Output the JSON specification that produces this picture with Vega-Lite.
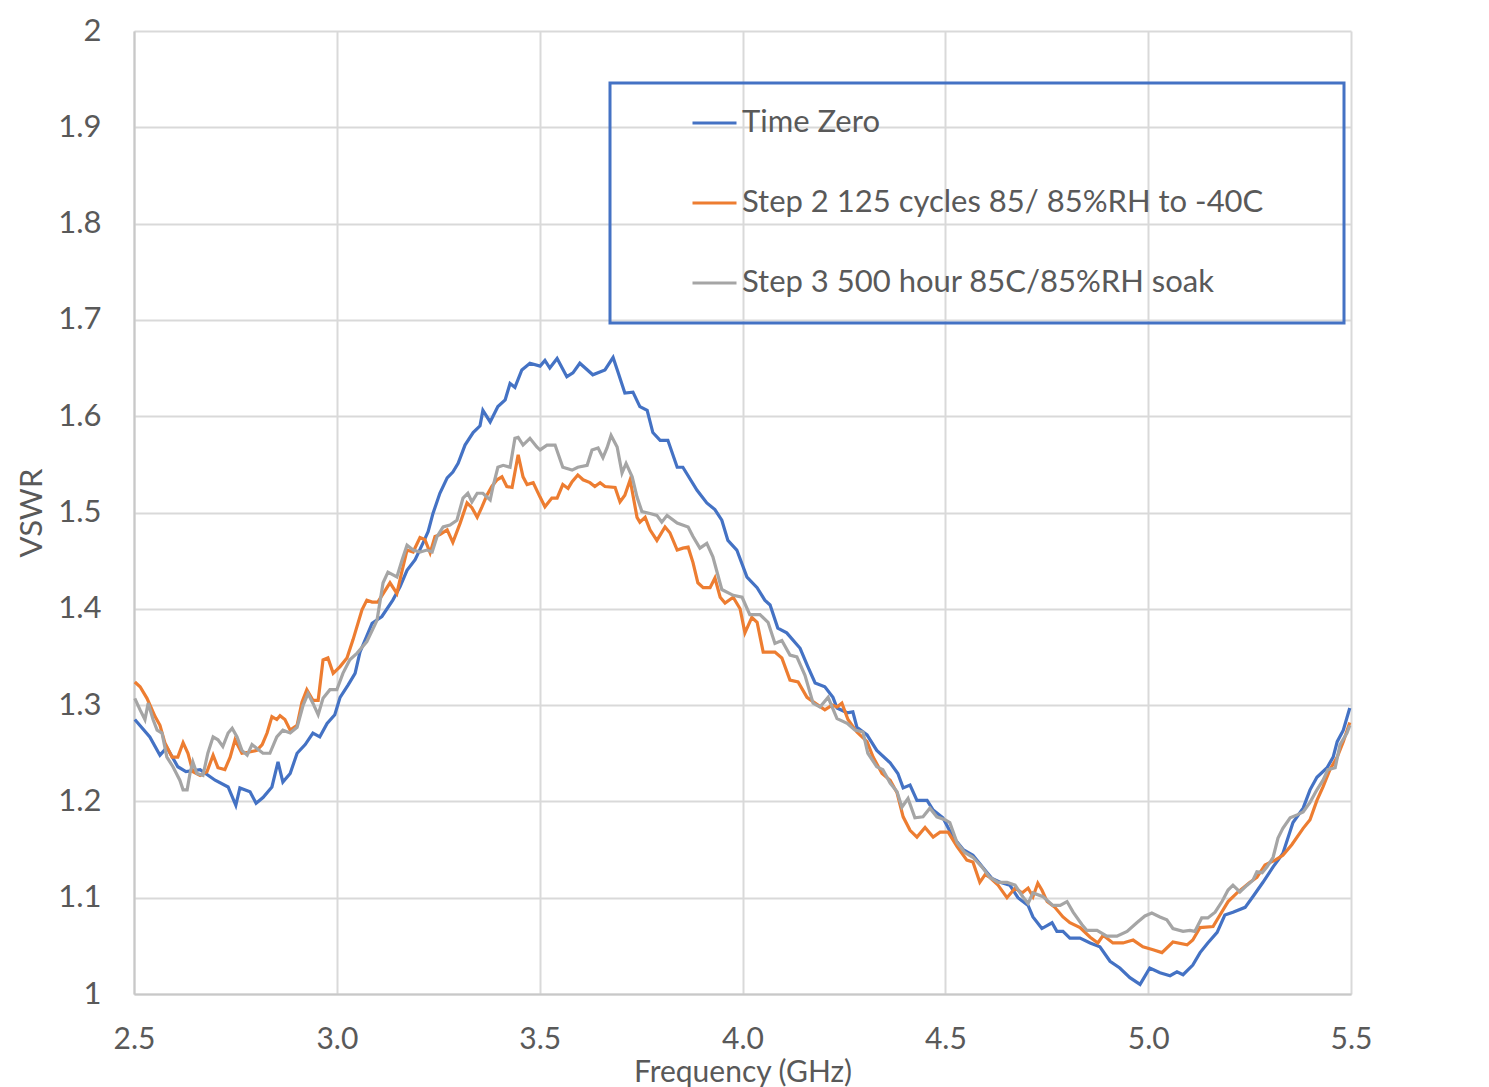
{
"$schema": "https://vega.github.io/schema/vega-lite/v6.json",
"autosize": {"type": "none"},
"width": 1217, "height": 963,
"padding": {"left": 134, "top": 31, "right": 138, "bottom": 93},
"background": "white",
"config": {"view": {"stroke": null}, "font": "Lato"},
"datasets": {
"t0": [
{"f":2.502,"v":1.285},{"f":2.539,"v":1.267},{"f":2.564,"v":1.248},{"f":2.581,"v":1.256},{"f":2.608,"v":1.236},{"f":2.628,"v":1.231},{"f":2.663,"v":1.233},{"f":2.700,"v":1.222},{"f":2.732,"v":1.215},{"f":2.751,"v":1.196},{"f":2.761,"v":1.214},{"f":2.786,"v":1.210},{"f":2.801,"v":1.198},{"f":2.818,"v":1.204},{"f":2.840,"v":1.215},{"f":2.855,"v":1.241},{"f":2.867,"v":1.220},{"f":2.885,"v":1.229},{"f":2.902,"v":1.250},{"f":2.922,"v":1.259},{"f":2.941,"v":1.271},{"f":2.958,"v":1.267},{"f":2.976,"v":1.281},{"f":2.995,"v":1.290},{"f":3.008,"v":1.308},{"f":3.028,"v":1.321},{"f":3.045,"v":1.333},{"f":3.057,"v":1.355},{"f":3.087,"v":1.385},{"f":3.111,"v":1.392},{"f":3.138,"v":1.409},{"f":3.156,"v":1.423},{"f":3.173,"v":1.440},{"f":3.193,"v":1.451},{"f":3.212,"v":1.468},{"f":3.225,"v":1.480},{"f":3.237,"v":1.499},{"f":3.254,"v":1.520},{"f":3.272,"v":1.536},{"f":3.286,"v":1.542},{"f":3.299,"v":1.551},{"f":3.316,"v":1.570},{"f":3.336,"v":1.583},{"f":3.353,"v":1.590},{"f":3.360,"v":1.606},{"f":3.378,"v":1.594},{"f":3.397,"v":1.610},{"f":3.415,"v":1.617},{"f":3.427,"v":1.634},{"f":3.439,"v":1.630},{"f":3.456,"v":1.648},{"f":3.476,"v":1.655},{"f":3.501,"v":1.652},{"f":3.513,"v":1.658},{"f":3.525,"v":1.650},{"f":3.543,"v":1.660},{"f":3.567,"v":1.641},{"f":3.582,"v":1.645},{"f":3.599,"v":1.655},{"f":3.631,"v":1.643},{"f":3.661,"v":1.648},{"f":3.681,"v":1.661},{"f":3.693,"v":1.646},{"f":3.710,"v":1.624},{"f":3.730,"v":1.625},{"f":3.747,"v":1.610},{"f":3.765,"v":1.606},{"f":3.779,"v":1.583},{"f":3.797,"v":1.575},{"f":3.816,"v":1.575},{"f":3.839,"v":1.547},{"f":3.853,"v":1.547},{"f":3.888,"v":1.523},{"f":3.912,"v":1.510},{"f":3.932,"v":1.503},{"f":3.949,"v":1.492},{"f":3.964,"v":1.471},{"f":3.986,"v":1.461},{"f":4.011,"v":1.433},{"f":4.036,"v":1.422},{"f":4.055,"v":1.409},{"f":4.068,"v":1.404},{"f":4.087,"v":1.380},{"f":4.109,"v":1.375},{"f":4.142,"v":1.359},{"f":4.161,"v":1.340},{"f":4.179,"v":1.323},{"f":4.203,"v":1.319},{"f":4.223,"v":1.308},{"f":4.233,"v":1.297},{"f":4.258,"v":1.292},{"f":4.272,"v":1.293},{"f":4.282,"v":1.277},{"f":4.307,"v":1.269},{"f":4.331,"v":1.253},{"f":4.364,"v":1.240},{"f":4.383,"v":1.229},{"f":4.396,"v":1.214},{"f":4.413,"v":1.217},{"f":4.430,"v":1.201},{"f":4.455,"v":1.201},{"f":4.470,"v":1.191},{"f":4.494,"v":1.183},{"f":4.519,"v":1.163},{"f":4.544,"v":1.150},{"f":4.568,"v":1.144},{"f":4.593,"v":1.131},{"f":4.615,"v":1.120},{"f":4.635,"v":1.116},{"f":4.659,"v":1.113},{"f":4.679,"v":1.100},{"f":4.704,"v":1.092},{"f":4.716,"v":1.080},{"f":4.738,"v":1.068},{"f":4.763,"v":1.074},{"f":4.775,"v":1.065},{"f":4.790,"v":1.065},{"f":4.807,"v":1.058},{"f":4.832,"v":1.058},{"f":4.857,"v":1.053},{"f":4.881,"v":1.049},{"f":4.906,"v":1.034},{"f":4.930,"v":1.027},{"f":4.955,"v":1.017},{"f":4.980,"v":1.010},{"f":5.004,"v":1.027},{"f":5.029,"v":1.022},{"f":5.054,"v":1.019},{"f":5.071,"v":1.023},{"f":5.086,"v":1.020},{"f":5.110,"v":1.030},{"f":5.128,"v":1.043},{"f":5.147,"v":1.053},{"f":5.170,"v":1.064},{"f":5.189,"v":1.082},{"f":5.209,"v":1.085},{"f":5.239,"v":1.090},{"f":5.258,"v":1.101},{"f":5.283,"v":1.116},{"f":5.308,"v":1.132},{"f":5.332,"v":1.146},{"f":5.357,"v":1.178},{"f":5.382,"v":1.193},{"f":5.399,"v":1.212},{"f":5.416,"v":1.225},{"f":5.441,"v":1.235},{"f":5.456,"v":1.246},{"f":5.466,"v":1.262},{"f":5.481,"v":1.274},{"f":5.497,"v":1.297}
],
"s2": [
{"f":2.502,"v":1.324},{"f":2.515,"v":1.319},{"f":2.532,"v":1.307},{"f":2.552,"v":1.288},{"f":2.564,"v":1.279},{"f":2.576,"v":1.261},{"f":2.594,"v":1.246},{"f":2.608,"v":1.246},{"f":2.621,"v":1.261},{"f":2.633,"v":1.250},{"f":2.645,"v":1.231},{"f":2.663,"v":1.227},{"f":2.680,"v":1.231},{"f":2.695,"v":1.248},{"f":2.707,"v":1.235},{"f":2.724,"v":1.233},{"f":2.737,"v":1.246},{"f":2.749,"v":1.264},{"f":2.766,"v":1.250},{"f":2.781,"v":1.251},{"f":2.803,"v":1.253},{"f":2.816,"v":1.259},{"f":2.828,"v":1.271},{"f":2.840,"v":1.288},{"f":2.852,"v":1.285},{"f":2.860,"v":1.289},{"f":2.872,"v":1.285},{"f":2.885,"v":1.274},{"f":2.902,"v":1.279},{"f":2.914,"v":1.303},{"f":2.926,"v":1.316},{"f":2.941,"v":1.305},{"f":2.954,"v":1.305},{"f":2.966,"v":1.347},{"f":2.978,"v":1.349},{"f":2.991,"v":1.333},{"f":3.008,"v":1.340},{"f":3.025,"v":1.349},{"f":3.040,"v":1.368},{"f":3.062,"v":1.399},{"f":3.074,"v":1.409},{"f":3.087,"v":1.407},{"f":3.101,"v":1.407},{"f":3.131,"v":1.427},{"f":3.148,"v":1.416},{"f":3.161,"v":1.440},{"f":3.173,"v":1.461},{"f":3.188,"v":1.459},{"f":3.205,"v":1.474},{"f":3.217,"v":1.472},{"f":3.230,"v":1.458},{"f":3.242,"v":1.475},{"f":3.254,"v":1.477},{"f":3.272,"v":1.482},{"f":3.286,"v":1.469},{"f":3.304,"v":1.489},{"f":3.321,"v":1.510},{"f":3.333,"v":1.505},{"f":3.346,"v":1.495},{"f":3.358,"v":1.506},{"f":3.370,"v":1.518},{"f":3.382,"v":1.527},{"f":3.395,"v":1.534},{"f":3.407,"v":1.537},{"f":3.419,"v":1.527},{"f":3.432,"v":1.526},{"f":3.447,"v":1.560},{"f":3.459,"v":1.537},{"f":3.469,"v":1.529},{"f":3.484,"v":1.531},{"f":3.501,"v":1.516},{"f":3.513,"v":1.506},{"f":3.530,"v":1.515},{"f":3.543,"v":1.515},{"f":3.557,"v":1.529},{"f":3.570,"v":1.525},{"f":3.580,"v":1.532},{"f":3.594,"v":1.539},{"f":3.607,"v":1.534},{"f":3.624,"v":1.531},{"f":3.636,"v":1.527},{"f":3.649,"v":1.531},{"f":3.661,"v":1.527},{"f":3.686,"v":1.526},{"f":3.698,"v":1.511},{"f":3.710,"v":1.518},{"f":3.723,"v":1.534},{"f":3.740,"v":1.495},{"f":3.747,"v":1.490},{"f":3.760,"v":1.495},{"f":3.772,"v":1.482},{"f":3.789,"v":1.471},{"f":3.809,"v":1.485},{"f":3.821,"v":1.479},{"f":3.839,"v":1.461},{"f":3.853,"v":1.463},{"f":3.866,"v":1.464},{"f":3.878,"v":1.448},{"f":3.890,"v":1.427},{"f":3.903,"v":1.422},{"f":3.920,"v":1.422},{"f":3.932,"v":1.432},{"f":3.945,"v":1.412},{"f":3.957,"v":1.406},{"f":3.977,"v":1.412},{"f":3.994,"v":1.400},{"f":4.006,"v":1.375},{"f":4.023,"v":1.391},{"f":4.036,"v":1.386},{"f":4.051,"v":1.355},{"f":4.080,"v":1.355},{"f":4.097,"v":1.349},{"f":4.117,"v":1.326},{"f":4.137,"v":1.324},{"f":4.159,"v":1.308},{"f":4.179,"v":1.302},{"f":4.203,"v":1.295},{"f":4.221,"v":1.300},{"f":4.233,"v":1.298},{"f":4.245,"v":1.302},{"f":4.260,"v":1.285},{"f":4.282,"v":1.272},{"f":4.307,"v":1.262},{"f":4.322,"v":1.246},{"f":4.344,"v":1.229},{"f":4.364,"v":1.222},{"f":4.381,"v":1.209},{"f":4.396,"v":1.184},{"f":4.413,"v":1.170},{"f":4.430,"v":1.163},{"f":4.450,"v":1.173},{"f":4.470,"v":1.163},{"f":4.487,"v":1.168},{"f":4.507,"v":1.168},{"f":4.529,"v":1.153},{"f":4.553,"v":1.139},{"f":4.568,"v":1.137},{"f":4.585,"v":1.116},{"f":4.598,"v":1.124},{"f":4.610,"v":1.121},{"f":4.630,"v":1.113},{"f":4.652,"v":1.100},{"f":4.672,"v":1.110},{"f":4.689,"v":1.105},{"f":4.704,"v":1.110},{"f":4.716,"v":1.101},{"f":4.728,"v":1.115},{"f":4.738,"v":1.108},{"f":4.751,"v":1.096},{"f":4.770,"v":1.090},{"f":4.790,"v":1.080},{"f":4.807,"v":1.074},{"f":4.832,"v":1.069},{"f":4.857,"v":1.059},{"f":4.876,"v":1.053},{"f":4.889,"v":1.061},{"f":4.913,"v":1.053},{"f":4.938,"v":1.053},{"f":4.963,"v":1.056},{"f":4.987,"v":1.049},{"f":5.012,"v":1.046},{"f":5.034,"v":1.043},{"f":5.061,"v":1.054},{"f":5.096,"v":1.051},{"f":5.110,"v":1.056},{"f":5.128,"v":1.069},{"f":5.160,"v":1.070},{"f":5.177,"v":1.082},{"f":5.197,"v":1.096},{"f":5.219,"v":1.105},{"f":5.251,"v":1.116},{"f":5.268,"v":1.121},{"f":5.288,"v":1.134},{"f":5.313,"v":1.139},{"f":5.332,"v":1.144},{"f":5.354,"v":1.155},{"f":5.382,"v":1.172},{"f":5.399,"v":1.181},{"f":5.416,"v":1.201},{"f":5.431,"v":1.215},{"f":5.448,"v":1.233},{"f":5.466,"v":1.246},{"f":5.481,"v":1.262},{"f":5.497,"v":1.282}
],
"s3": [
{"f":2.502,"v":1.307},{"f":2.515,"v":1.295},{"f":2.527,"v":1.285},{"f":2.535,"v":1.302},{"f":2.547,"v":1.285},{"f":2.557,"v":1.274},{"f":2.569,"v":1.271},{"f":2.581,"v":1.246},{"f":2.596,"v":1.236},{"f":2.613,"v":1.222},{"f":2.621,"v":1.212},{"f":2.631,"v":1.212},{"f":2.638,"v":1.229},{"f":2.645,"v":1.241},{"f":2.655,"v":1.229},{"f":2.670,"v":1.227},{"f":2.682,"v":1.250},{"f":2.695,"v":1.267},{"f":2.707,"v":1.264},{"f":2.719,"v":1.257},{"f":2.732,"v":1.271},{"f":2.742,"v":1.276},{"f":2.754,"v":1.267},{"f":2.766,"v":1.253},{"f":2.779,"v":1.248},{"f":2.791,"v":1.259},{"f":2.803,"v":1.255},{"f":2.818,"v":1.250},{"f":2.835,"v":1.250},{"f":2.852,"v":1.267},{"f":2.867,"v":1.274},{"f":2.885,"v":1.271},{"f":2.902,"v":1.277},{"f":2.917,"v":1.300},{"f":2.929,"v":1.312},{"f":2.941,"v":1.302},{"f":2.954,"v":1.290},{"f":2.966,"v":1.307},{"f":2.983,"v":1.316},{"f":3.000,"v":1.316},{"f":3.015,"v":1.333},{"f":3.032,"v":1.347},{"f":3.050,"v":1.354},{"f":3.074,"v":1.366},{"f":3.099,"v":1.388},{"f":3.114,"v":1.427},{"f":3.126,"v":1.438},{"f":3.148,"v":1.433},{"f":3.161,"v":1.451},{"f":3.173,"v":1.466},{"f":3.188,"v":1.461},{"f":3.205,"v":1.459},{"f":3.222,"v":1.461},{"f":3.235,"v":1.459},{"f":3.247,"v":1.475},{"f":3.262,"v":1.485},{"f":3.279,"v":1.487},{"f":3.296,"v":1.492},{"f":3.311,"v":1.515},{"f":3.323,"v":1.520},{"f":3.333,"v":1.511},{"f":3.346,"v":1.520},{"f":3.360,"v":1.520},{"f":3.378,"v":1.513},{"f":3.385,"v":1.527},{"f":3.397,"v":1.547},{"f":3.410,"v":1.549},{"f":3.427,"v":1.547},{"f":3.439,"v":1.577},{"f":3.447,"v":1.578},{"f":3.459,"v":1.570},{"f":3.476,"v":1.577},{"f":3.493,"v":1.568},{"f":3.501,"v":1.565},{"f":3.518,"v":1.570},{"f":3.538,"v":1.570},{"f":3.557,"v":1.547},{"f":3.580,"v":1.544},{"f":3.594,"v":1.547},{"f":3.617,"v":1.549},{"f":3.629,"v":1.565},{"f":3.644,"v":1.567},{"f":3.656,"v":1.557},{"f":3.666,"v":1.567},{"f":3.676,"v":1.580},{"f":3.691,"v":1.568},{"f":3.703,"v":1.541},{"f":3.713,"v":1.551},{"f":3.728,"v":1.537},{"f":3.740,"v":1.516},{"f":3.752,"v":1.501},{"f":3.772,"v":1.499},{"f":3.789,"v":1.497},{"f":3.801,"v":1.490},{"f":3.814,"v":1.497},{"f":3.839,"v":1.489},{"f":3.866,"v":1.485},{"f":3.878,"v":1.475},{"f":3.895,"v":1.463},{"f":3.912,"v":1.468},{"f":3.927,"v":1.454},{"f":3.949,"v":1.420},{"f":3.977,"v":1.414},{"f":3.999,"v":1.412},{"f":4.018,"v":1.394},{"f":4.043,"v":1.394},{"f":4.063,"v":1.386},{"f":4.080,"v":1.364},{"f":4.097,"v":1.367},{"f":4.117,"v":1.352},{"f":4.134,"v":1.350},{"f":4.154,"v":1.331},{"f":4.174,"v":1.302},{"f":4.191,"v":1.298},{"f":4.211,"v":1.308},{"f":4.233,"v":1.286},{"f":4.258,"v":1.281},{"f":4.277,"v":1.274},{"f":4.297,"v":1.272},{"f":4.309,"v":1.250},{"f":4.331,"v":1.236},{"f":4.346,"v":1.233},{"f":4.364,"v":1.219},{"f":4.381,"v":1.210},{"f":4.393,"v":1.194},{"f":4.408,"v":1.203},{"f":4.425,"v":1.183},{"f":4.445,"v":1.184},{"f":4.462,"v":1.193},{"f":4.479,"v":1.184},{"f":4.499,"v":1.181},{"f":4.511,"v":1.178},{"f":4.529,"v":1.157},{"f":4.548,"v":1.147},{"f":4.568,"v":1.142},{"f":4.590,"v":1.132},{"f":4.610,"v":1.121},{"f":4.630,"v":1.116},{"f":4.652,"v":1.116},{"f":4.672,"v":1.113},{"f":4.691,"v":1.101},{"f":4.704,"v":1.094},{"f":4.716,"v":1.105},{"f":4.741,"v":1.101},{"f":4.765,"v":1.092},{"f":4.783,"v":1.092},{"f":4.800,"v":1.096},{"f":4.815,"v":1.085},{"f":4.837,"v":1.072},{"f":4.849,"v":1.066},{"f":4.874,"v":1.066},{"f":4.898,"v":1.060},{"f":4.923,"v":1.060},{"f":4.948,"v":1.065},{"f":4.972,"v":1.074},{"f":4.992,"v":1.081},{"f":5.009,"v":1.084},{"f":5.029,"v":1.080},{"f":5.046,"v":1.077},{"f":5.061,"v":1.068},{"f":5.086,"v":1.065},{"f":5.103,"v":1.066},{"f":5.115,"v":1.065},{"f":5.132,"v":1.079},{"f":5.147,"v":1.079},{"f":5.165,"v":1.085},{"f":5.182,"v":1.096},{"f":5.197,"v":1.108},{"f":5.209,"v":1.113},{"f":5.226,"v":1.106},{"f":5.244,"v":1.113},{"f":5.258,"v":1.118},{"f":5.268,"v":1.127},{"f":5.281,"v":1.126},{"f":5.293,"v":1.132},{"f":5.308,"v":1.142},{"f":5.320,"v":1.162},{"f":5.332,"v":1.172},{"f":5.350,"v":1.183},{"f":5.367,"v":1.186},{"f":5.382,"v":1.189},{"f":5.399,"v":1.199},{"f":5.416,"v":1.212},{"f":5.431,"v":1.222},{"f":5.443,"v":1.233},{"f":5.461,"v":1.235},{"f":5.473,"v":1.259},{"f":5.490,"v":1.271},{"f":5.497,"v":1.279}
]
},
"encoding": {
 "x": {"field": "f", "type": "quantitative",
  "scale": {"domain": [2.5, 5.5], "nice": false, "zero": false},
  "axis": {"title": "Frequency (GHz)", "values": [2.5,3,3.5,4,4.5,5,5.5], "format": ".1f",
   "grid": true, "gridColor": "#d9d9d9", "gridWidth": 2, "domainColor": "#c8c8c8", "domainWidth": 2,
   "ticks": false, "labelFontSize": 30, "labelColor": "#595959", "labelPadding": 30, "labelFont": "Lato",
   "labelFlush": false, "labelOverlap": false,
   "titleFontSize": 30, "titleFontWeight": "normal", "titleColor": "#595959", "titlePadding": 3, "titleFont": "Lato"}},
 "y": {"field": "v", "type": "quantitative",
  "scale": {"domain": [1, 2], "nice": false, "zero": false},
  "axis": {"title": "VSWR", "values": [1,1.1,1.2,1.3,1.4,1.5,1.6,1.7,1.8,1.9,2], "format": ".1~f",
   "grid": true, "gridColor": "#d9d9d9", "gridWidth": 2, "domainColor": "#c8c8c8", "domainWidth": 2,
   "ticks": false, "labelFontSize": 31, "labelColor": "#595959", "labelPadding": 33, "labelFont": "Lato",
   "labelFlush": false, "labelOverlap": false,
   "titleFontSize": 31, "titleFontWeight": "normal", "titleColor": "#595959", "titlePadding": 9, "titleFont": "Lato"}}
},
"layer": [
 {"data": {"name": "t0"}, "mark": {"type": "line", "strokeWidth": 3.2},
  "encoding": {"color": {"datum": "Time Zero", "type": "nominal"}}},
 {"data": {"name": "s2"}, "mark": {"type": "line", "strokeWidth": 3.2},
  "encoding": {"color": {"datum": "Step 2  125 cycles 85/ 85%RH to -40C", "type": "nominal"}}},
 {"data": {"name": "s3"}, "mark": {"type": "line", "strokeWidth": 3.2},
  "encoding": {"color": {"datum": "Step 3 500 hour 85C/85%RH soak", "type": "nominal",
   "scale": {"domain": ["Time Zero", "Step 2  125 cycles 85/ 85%RH to -40C", "Step 3 500 hour 85C/85%RH soak"],
             "range": ["#4472C4", "#ED7D31", "#A5A5A5"]},
   "legend": {"orient": "none", "legendX": 476, "legendY": 52,
    "title": " ", "titleOrient": "right", "titleFontSize": 1, "titlePadding": 48,
    "strokeColor": "#4472C4", "padding": 25, "symbolType": "stroke", "symbolSize": 1936,
    "symbolStrokeWidth": 3, "symbolOffset": 56, "labelOffset": 4, "clipHeight": 30,
    "labelFontSize": 31, "labelFont": "Lato", "labelColor": "#595959", "labelLimit": 1000,
    "rowPadding": 49,
    "encode": {"legend": {"update": {"strokeWidth": {"value": 3}}}}}}}}
]
}
